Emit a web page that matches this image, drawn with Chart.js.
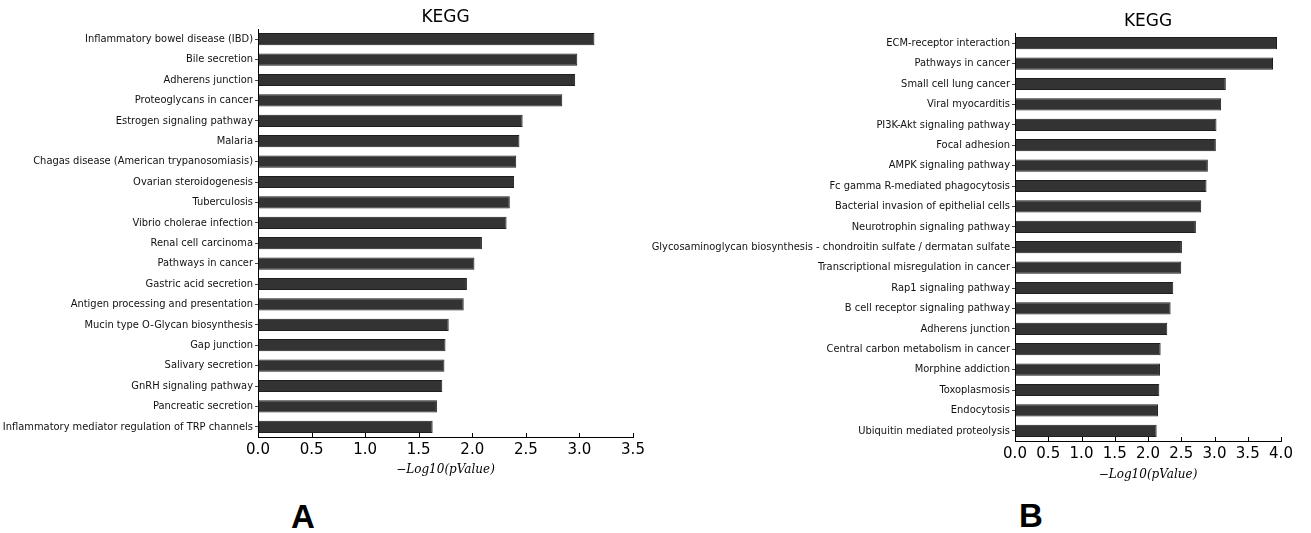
<!DOCTYPE html>
<html>
<head>
<meta charset="utf-8">
<script src="https://cdn.jsdelivr.net/npm/chart.js@4.4.1/dist/chart.umd.min.js"></script>
<style>
    body { margin: 0; background: #fff; width: 1311px; height: 533px; position: relative; overflow: hidden; }
    .box { position: absolute; }
    #boxA { left: 0; top: 0; width: 650px; height: 480px; }
    #boxB { left: 600px; top: 0; width: 711px; height: 485px; }
    .tag { position: absolute; font-family: 'Liberation Sans', Arial, sans-serif; font-weight: bold; font-size: 33px; line-height: 1; }
</style>
</head>
<body>
<div class="box" id="boxA"><canvas id="chartA"></canvas></div>
<div class="box" id="boxB"><canvas id="chartB"></canvas></div>
<div class="tag" style="left:291px;top:500px">A</div>
<div class="tag" style="left:1019px;top:499px">B</div>
<script>
const catsA = [
    'Inflammatory bowel disease (IBD)', 'Bile secretion', 'Adherens junction',
    'Proteoglycans in cancer', 'Estrogen signaling pathway', 'Malaria',
    'Chagas disease (American trypanosomiasis)', 'Ovarian steroidogenesis',
    'Tuberculosis', 'Vibrio cholerae infection', 'Renal cell carcinoma',
    'Pathways in cancer', 'Gastric acid secretion', 'Antigen processing and presentation',
    'Mucin type O-Glycan biosynthesis', 'Gap junction', 'Salivary secretion',
    'GnRH signaling pathway', 'Pancreatic secretion',
    'Inflammatory mediator regulation of TRP channels'
];
const valsA = [3.14, 2.98, 2.96, 2.84, 2.47, 2.44, 2.41, 2.39, 2.35, 2.32,
               2.09, 2.02, 1.95, 1.92, 1.78, 1.75, 1.74, 1.72, 1.67, 1.63];

const catsB = [
    'ECM-receptor interaction', 'Pathways in cancer', 'Small cell lung cancer',
    'Viral myocarditis', 'PI3K-Akt signaling pathway', 'Focal adhesion',
    'AMPK signaling pathway', 'Fc gamma R-mediated phagocytosis',
    'Bacterial invasion of epithelial cells', 'Neurotrophin signaling pathway',
    'Glycosaminoglycan biosynthesis - chondroitin sulfate / dermatan sulfate',
    'Transcriptional misregulation in cancer', 'Rap1 signaling pathway',
    'B cell receptor signaling pathway', 'Adherens junction',
    'Central carbon metabolism in cancer', 'Morphine addiction', 'Toxoplasmosis',
    'Endocytosis', 'Ubiquitin mediated proteolysis'
];
const valsB = [3.94, 3.88, 3.17, 3.10, 3.03, 3.02, 2.90, 2.88, 2.80, 2.72,
               2.51, 2.50, 2.38, 2.34, 2.29, 2.19, 2.18, 2.17, 2.15, 2.13];

const xMaxA = 3.5;
const xMaxB = 4.0;
const xStep = 0.5;
const chartTitle = 'KEGG';
const xTitle = '\u2212Log10(pValue)';

// title centred on the plot area + inward x ticks, like matplotlib
const keggPlugin = {
    id: 'kegg',
    afterDraw(chart, args, o) {
        const { ctx, chartArea } = chart;
        const x = chart.scales.x;
        ctx.save();
        ctx.fillStyle = '#000';
        ctx.font = '17px "DejaVu Sans"';
        ctx.textAlign = 'center';
        ctx.textBaseline = 'middle';
        ctx.fillText(o.text, (chartArea.left + chartArea.right) / 2, o.y);
        ctx.strokeStyle = '#000';
        ctx.lineWidth = 1;
        x.ticks.forEach((t, i) => {
            const px = Math.round(x.getPixelForTick(i)) + 0.5;
            ctx.beginPath();
            ctx.moveTo(px, chartArea.bottom);
            ctx.lineTo(px, chartArea.bottom - 4);
            ctx.stroke();
        });
        ctx.restore();
    }
};

function makeChart(id, cats, vals, xMax, axisW, top, right, bottomH, titleY) {
    return new Chart(document.getElementById(id), {
        type: 'bar',
        data: {
            labels: cats,
            datasets: [{
                data: vals,
                backgroundColor: '#333333',
                borderColor: '#1e1e1e',
                borderWidth: 1,
                barPercentage: 0.6,
                categoryPercentage: 1
            }]
        },
        options: {
            indexAxis: 'y',
            responsive: true,
            maintainAspectRatio: false,
            animation: false,
            layout: { padding: { top: top, right: right, left: 0, bottom: 0 } },
            plugins: {
                legend: { display: false },
                tooltip: { enabled: false },
                kegg: { text: chartTitle, y: titleY }
            },
            scales: {
                x: {
                    min: 0,
                    max: xMax,
                    afterFit: s => { s.height = bottomH; },
                    ticks: {
                        stepSize: xStep,
                        padding: 4,
                        color: '#000',
                        font: { family: 'DejaVu Sans', size: 15 },
                        callback: v => Number(v).toFixed(1)
                    },
                    grid: { drawOnChartArea: false, drawTicks: false },
                    border: { display: true, color: '#000', width: 1 },
                    title: {
                        display: true,
                        text: xTitle,
                        color: '#000',
                        padding: { top: 0, bottom: 3 },
                        font: { family: 'DejaVu Serif', size: 12, style: 'italic' }
                    }
                },
                y: {
                    afterFit: s => { s.width = axisW; },
                    ticks: {
                        padding: 2,
                        color: '#111',
                        autoSkip: false,
                        font: { family: "'Liberation Sans Narrow', 'DejaVu Sans Condensed', 'DejaVu Sans'", size: 11 }
                    },
                    grid: { offset: false, drawOnChartArea: false, drawTicks: true, tickLength: 3, color: '#444' },
                    border: { display: true, color: '#000', width: 1 }
                }
            }
        },
        plugins: [keggPlugin]
    });
}

makeChart('chartA', catsA, valsA, xMaxA, 258, 29, 17, 43, 18);
makeChart('chartB', catsB, valsB, xMaxB, 415, 33, 30, 44, 22);
</script>
</body>
</html>
